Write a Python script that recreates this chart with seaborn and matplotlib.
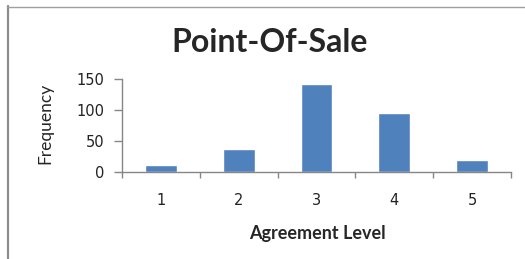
import matplotlib
matplotlib.use("Agg")
import matplotlib.pyplot as plt
from matplotlib.lines import Line2D
from matplotlib.ticker import FixedLocator
import seaborn as sns
import pandas as pd

levels = ["1", "2", "3", "4", "5"]
frequency = [12, 37, 142, 95, 20]
yticks = [0, 50, 100, 150]

title = "Point-Of-Sale"
xlabel = "Agreement Level"
ylabel = "Frequency"

sns.set_theme(style="white")
plt.rcParams["font.family"] = ["DejaVu Sans"]

df = pd.DataFrame({"level": levels, "freq": frequency})

fig = plt.figure(figsize=(5.25, 2.59), dpi=100)
ax = fig.add_axes([0.2324, 0.3359, 0.7409, 0.3591])
sns.barplot(data=df, x="level", y="freq", color="#4F81BD", saturation=1,
            width=0.41, ax=ax)

grey = "#868686"
ax.set_xlim(-0.5, len(levels) - 0.5)
ax.set_ylim(0, 150)
ax.set_yticks(yticks)
for s in ["top", "right"]:
    ax.spines[s].set_visible(False)
for s in ["left", "bottom"]:
    ax.spines[s].set_color(grey)
    ax.spines[s].set_linewidth(1)

ax.xaxis.set_minor_locator(FixedLocator([i + 0.5 for i in range(-1, len(levels))]))
ax.tick_params(axis="x", which="major", length=0, pad=15, labelsize=10.5, colors="black")
ax.tick_params(axis="x", which="minor", length=4, width=1, color=grey, direction="out", bottom=True)
ax.tick_params(axis="y", which="major", length=6, width=1, color=grey, direction="out",
               left=True, pad=7, labelsize=10.5, labelcolor="black")
for lab in ax.get_xticklabels() + ax.get_yticklabels():
    lab.set_color("#222222")

ax.set_xlabel("")
ax.set_ylabel("")
fig.text(0.5143, 0.835, title, ha="center", va="center", fontsize=23,
         fontweight="bold", family=["Lato", "DejaVu Sans"])
fig.text(0.604, 0.100, xlabel, ha="center", va="center", fontsize=13,
         fontweight="bold", family=["Lato", "DejaVu Sans"])
fig.text(0.0857, 0.525, ylabel, ha="center", va="center", fontsize=12.5,
         rotation=90, family=["Lato", "DejaVu Sans"])

fig.add_artist(Line2D([7.5 / 525, 7.5 / 525], [0, 1 - 6 / 259], transform=fig.transFigure,
                      color="#8c8c8c", linewidth=1.6))
fig.add_artist(Line2D([7 / 525, 1], [1 - 7 / 259, 1 - 7 / 259], transform=fig.transFigure,
                      color="#a0a0a0", linewidth=1.0))

fig.savefig("out.png", dpi=100, facecolor="white")
